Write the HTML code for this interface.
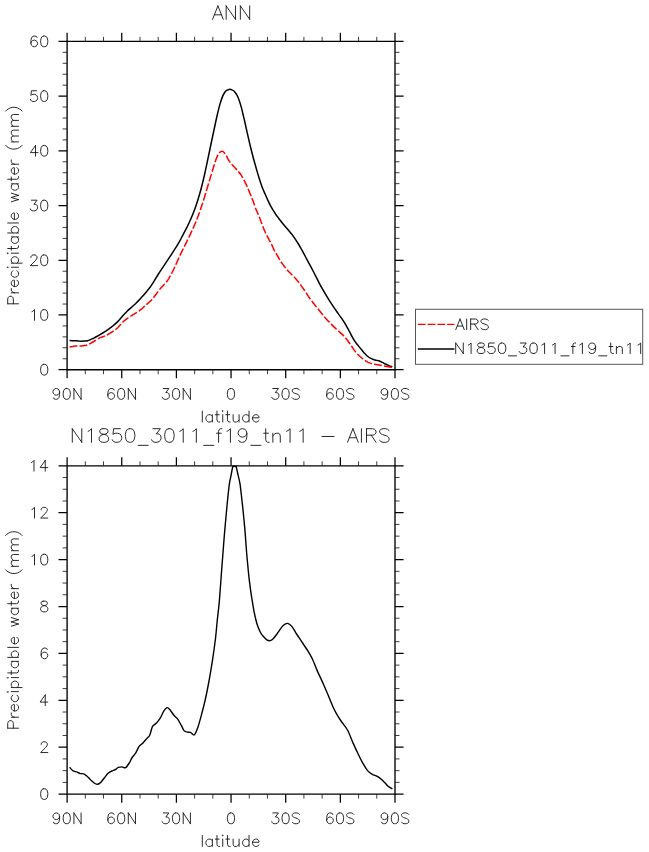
<!DOCTYPE html>
<html><head><meta charset="utf-8"><title>ANN</title>
<style>
html,body{margin:0;padding:0;background:#fff;font-family:"Liberation Sans",sans-serif;}
svg{display:block}
</style></head><body>
<svg width="649" height="852" viewBox="0 0 649 852" fill="none" stroke-linecap="butt">
<rect x="0" y="0" width="649" height="852" fill="#fff" stroke="none"/>
<path d="M67.10 41.40H395.00V369.70H67.10Z" stroke="#000" stroke-width="1.35"/>
<path d="M67.10 41.40V32.80M67.10 369.70V378.30M121.75 41.40V32.80M121.75 369.70V378.30M176.40 41.40V32.80M176.40 369.70V378.30M231.05 41.40V32.80M231.05 369.70V378.30M285.70 41.40V32.80M285.70 369.70V378.30M340.35 41.40V32.80M340.35 369.70V378.30M395.00 41.40V32.80M395.00 369.70V378.30M67.10 41.40H58.50M395.00 41.40H403.60M67.10 96.12H58.50M395.00 96.12H403.60M67.10 150.83H58.50M395.00 150.83H403.60M67.10 205.55H58.50M395.00 205.55H403.60M67.10 260.27H58.50M395.00 260.27H403.60M67.10 314.98H58.50M395.00 314.98H403.60M67.10 369.70H58.50M395.00 369.70H403.60" stroke="#000" stroke-width="1.25"/>
<path d="M85.32 41.40V36.90M85.32 369.70V374.20M103.53 41.40V36.90M103.53 369.70V374.20M139.97 41.40V36.90M139.97 369.70V374.20M158.18 41.40V36.90M158.18 369.70V374.20M194.62 41.40V36.90M194.62 369.70V374.20M212.83 41.40V36.90M212.83 369.70V374.20M249.27 41.40V36.90M249.27 369.70V374.20M267.48 41.40V36.90M267.48 369.70V374.20M303.92 41.40V36.90M303.92 369.70V374.20M322.13 41.40V36.90M322.13 369.70V374.20M358.57 41.40V36.90M358.57 369.70V374.20M376.78 41.40V36.90M376.78 369.70V374.20M67.10 52.34H62.60M395.00 52.34H399.50M67.10 63.29H62.60M395.00 63.29H399.50M67.10 74.23H62.60M395.00 74.23H399.50M67.10 85.17H62.60M395.00 85.17H399.50M67.10 107.06H62.60M395.00 107.06H399.50M67.10 118.00H62.60M395.00 118.00H399.50M67.10 128.95H62.60M395.00 128.95H399.50M67.10 139.89H62.60M395.00 139.89H399.50M67.10 161.78H62.60M395.00 161.78H399.50M67.10 172.72H62.60M395.00 172.72H399.50M67.10 183.66H62.60M395.00 183.66H399.50M67.10 194.61H62.60M395.00 194.61H399.50M67.10 216.49H62.60M395.00 216.49H399.50M67.10 227.44H62.60M395.00 227.44H399.50M67.10 238.38H62.60M395.00 238.38H399.50M67.10 249.32H62.60M395.00 249.32H399.50M67.10 271.21H62.60M395.00 271.21H399.50M67.10 282.15H62.60M395.00 282.15H399.50M67.10 293.10H62.60M395.00 293.10H399.50M67.10 304.04H62.60M395.00 304.04H399.50M67.10 325.93H62.60M395.00 325.93H399.50M67.10 336.87H62.60M395.00 336.87H399.50M67.10 347.81H62.60M395.00 347.81H399.50M67.10 358.76H62.60M395.00 358.76H399.50" stroke="#1a1a1a" stroke-width="0.85"/>
<path d="M37.05 37.57L36.54 36.55L35.00 36.04L33.98 36.04L32.44 36.55L31.42 38.08L30.90 40.63L30.90 43.18L31.42 45.22L32.44 46.24L33.98 46.75L34.49 46.75L36.02 46.24L37.05 45.22L37.56 43.69L37.56 43.18L37.05 41.65L36.02 40.63L34.49 40.12L33.98 40.12L32.44 40.63L31.42 41.65L30.90 43.18M43.70 36.04L42.17 36.55L41.14 38.08L40.63 40.63L40.63 42.16L41.14 44.71L42.17 46.24L43.70 46.75L44.73 46.75L46.26 46.24L47.29 44.71L47.80 42.16L47.80 40.63L47.29 38.08L46.26 36.55L44.73 36.04L43.70 36.04" stroke="#1a1a1a" stroke-width="0.93" stroke-linecap="round" stroke-linejoin="round"/>
<path d="M36.54 90.76L31.42 90.76L30.90 95.35L31.42 94.84L32.95 94.33L34.49 94.33L36.02 94.84L37.05 95.86L37.56 97.39L37.56 98.41L37.05 99.94L36.02 100.96L34.49 101.47L32.95 101.47L31.42 100.96L30.90 100.45L30.39 99.43M43.70 90.76L42.17 91.27L41.14 92.80L40.63 95.35L40.63 96.88L41.14 99.43L42.17 100.96L43.70 101.47L44.73 101.47L46.26 100.96L47.29 99.43L47.80 96.88L47.80 95.35L47.29 92.80L46.26 91.27L44.73 90.76L43.70 90.76" stroke="#1a1a1a" stroke-width="0.93" stroke-linecap="round" stroke-linejoin="round"/>
<path d="M35.51 145.47L30.39 152.61L38.07 152.61M35.51 145.47L35.51 156.18M43.70 145.47L42.17 145.98L41.14 147.51L40.63 150.06L40.63 151.59L41.14 154.14L42.17 155.67L43.70 156.18L44.73 156.18L46.26 155.67L47.29 154.14L47.80 151.59L47.80 150.06L47.29 147.51L46.26 145.98L44.73 145.47L43.70 145.47" stroke="#1a1a1a" stroke-width="0.93" stroke-linecap="round" stroke-linejoin="round"/>
<path d="M31.42 200.19L37.05 200.19L33.98 204.27L35.51 204.27L36.54 204.78L37.05 205.29L37.56 206.82L37.56 207.84L37.05 209.37L36.02 210.39L34.49 210.90L32.95 210.90L31.42 210.39L30.90 209.88L30.39 208.86M43.70 200.19L42.17 200.70L41.14 202.23L40.63 204.78L40.63 206.31L41.14 208.86L42.17 210.39L43.70 210.90L44.73 210.90L46.26 210.39L47.29 208.86L47.80 206.31L47.80 204.78L47.29 202.23L46.26 200.70L44.73 200.19L43.70 200.19" stroke="#1a1a1a" stroke-width="0.93" stroke-linecap="round" stroke-linejoin="round"/>
<path d="M30.90 257.46L30.90 256.95L31.42 255.93L31.93 255.42L32.95 254.91L35.00 254.91L36.02 255.42L36.54 255.93L37.05 256.95L37.05 257.97L36.54 258.99L35.51 260.52L30.39 265.62L37.56 265.62M43.70 254.91L42.17 255.42L41.14 256.95L40.63 259.50L40.63 261.03L41.14 263.58L42.17 265.11L43.70 265.62L44.73 265.62L46.26 265.11L47.29 263.58L47.80 261.03L47.80 259.50L47.29 256.95L46.26 255.42L44.73 254.91L43.70 254.91" stroke="#1a1a1a" stroke-width="0.93" stroke-linecap="round" stroke-linejoin="round"/>
<path d="M31.93 311.66L32.95 311.15L34.49 309.62L34.49 320.33M43.70 309.62L42.17 310.13L41.14 311.66L40.63 314.21L40.63 315.74L41.14 318.29L42.17 319.82L43.70 320.33L44.73 320.33L46.26 319.82L47.29 318.29L47.80 315.74L47.80 314.21L47.29 311.66L46.26 310.13L44.73 309.62L43.70 309.62" stroke="#1a1a1a" stroke-width="0.93" stroke-linecap="round" stroke-linejoin="round"/>
<path d="M43.70 364.34L42.17 364.85L41.14 366.38L40.63 368.93L40.63 370.46L41.14 373.01L42.17 374.54L43.70 375.05L44.73 375.05L46.26 374.54L47.29 373.01L47.80 370.46L47.80 368.93L47.29 366.38L46.26 364.85L44.73 364.34L43.70 364.34" stroke="#1a1a1a" stroke-width="0.93" stroke-linecap="round" stroke-linejoin="round"/>
<path d="M59.58 392.10L59.06 393.65L58.04 394.67L56.50 395.19L55.99 395.19L54.46 394.67L53.43 393.65L52.92 392.10L52.92 391.59L53.43 390.05L54.46 389.02L55.99 388.51L56.50 388.51L58.04 389.02L59.06 390.05L59.58 392.10L59.58 394.67L59.06 397.24L58.04 398.79L56.50 399.30L55.48 399.30L53.94 398.79L53.43 397.76M66.23 388.51L64.70 389.02L63.67 390.56L63.16 393.13L63.16 394.67L63.67 397.24L64.70 398.79L66.23 399.30L67.26 399.30L68.79 398.79L69.82 397.24L70.33 394.67L70.33 393.13L69.82 390.56L68.79 389.02L67.26 388.51L66.23 388.51M73.91 388.51L73.91 399.30M73.91 388.51L81.08 399.30M81.08 388.51L81.08 399.30" stroke="#1a1a1a" stroke-width="0.93" stroke-linecap="round" stroke-linejoin="round"/>
<path d="M113.97 390.05L113.46 389.02L111.92 388.51L110.90 388.51L109.36 389.02L108.34 390.56L107.83 393.13L107.83 395.70L108.34 397.76L109.36 398.79L110.90 399.30L111.41 399.30L112.95 398.79L113.97 397.76L114.48 396.22L114.48 395.70L113.97 394.16L112.95 393.13L111.41 392.62L110.90 392.62L109.36 393.13L108.34 394.16L107.83 395.70M120.63 388.51L119.09 389.02L118.07 390.56L117.55 393.13L117.55 394.67L118.07 397.24L119.09 398.79L120.63 399.30L121.65 399.30L123.19 398.79L124.21 397.24L124.72 394.67L124.72 393.13L124.21 390.56L123.19 389.02L121.65 388.51L120.63 388.51M128.31 388.51L128.31 399.30M128.31 388.51L135.47 399.30M135.47 388.51L135.47 399.30" stroke="#1a1a1a" stroke-width="0.93" stroke-linecap="round" stroke-linejoin="round"/>
<path d="M163.24 388.51L168.88 388.51L165.80 392.62L167.34 392.62L168.36 393.13L168.88 393.65L169.39 395.19L169.39 396.22L168.88 397.76L167.85 398.79L166.32 399.30L164.78 399.30L163.24 398.79L162.73 398.27L162.22 397.24M175.53 388.51L174.00 389.02L172.97 390.56L172.46 393.13L172.46 394.67L172.97 397.24L174.00 398.79L175.53 399.30L176.56 399.30L178.09 398.79L179.12 397.24L179.63 394.67L179.63 393.13L179.12 390.56L178.09 389.02L176.56 388.51L175.53 388.51M183.21 388.51L183.21 399.30M183.21 388.51L190.38 399.30M190.38 388.51L190.38 399.30" stroke="#1a1a1a" stroke-width="0.93" stroke-linecap="round" stroke-linejoin="round"/>
<path d="M230.44 388.51L228.90 389.02L227.88 390.56L227.37 393.13L227.37 394.67L227.88 397.24L228.90 398.79L230.44 399.30L231.46 399.30L233.00 398.79L234.02 397.24L234.53 394.67L234.53 393.13L234.02 390.56L233.00 389.02L231.46 388.51L230.44 388.51" stroke="#1a1a1a" stroke-width="0.93" stroke-linecap="round" stroke-linejoin="round"/>
<path d="M272.80 388.51L278.43 388.51L275.36 392.62L276.90 392.62L277.92 393.13L278.43 393.65L278.94 395.19L278.94 396.22L278.43 397.76L277.41 398.79L275.87 399.30L274.34 399.30L272.80 398.79L272.29 398.27L271.78 397.24M285.09 388.51L283.55 389.02L282.53 390.56L282.02 393.13L282.02 394.67L282.53 397.24L283.55 398.79L285.09 399.30L286.11 399.30L287.65 398.79L288.67 397.24L289.18 394.67L289.18 393.13L288.67 390.56L287.65 389.02L286.11 388.51L285.09 388.51M299.42 390.05L298.40 389.02L296.86 388.51L294.82 388.51L293.28 389.02L292.26 390.05L292.26 391.08L292.77 392.10L293.28 392.62L294.30 393.13L297.38 394.16L298.40 394.67L298.91 395.19L299.42 396.22L299.42 397.76L298.40 398.79L296.86 399.30L294.82 399.30L293.28 398.79L292.26 397.76" stroke="#1a1a1a" stroke-width="0.93" stroke-linecap="round" stroke-linejoin="round"/>
<path d="M332.83 390.05L332.31 389.02L330.78 388.51L329.75 388.51L328.22 389.02L327.19 390.56L326.68 393.13L326.68 395.70L327.19 397.76L328.22 398.79L329.75 399.30L330.27 399.30L331.80 398.79L332.83 397.76L333.34 396.22L333.34 395.70L332.83 394.16L331.80 393.13L330.27 392.62L329.75 392.62L328.22 393.13L327.19 394.16L326.68 395.70M339.48 388.51L337.95 389.02L336.92 390.56L336.41 393.13L336.41 394.67L336.92 397.24L337.95 398.79L339.48 399.30L340.51 399.30L342.04 398.79L343.07 397.24L343.58 394.67L343.58 393.13L343.07 390.56L342.04 389.02L340.51 388.51L339.48 388.51M353.82 390.05L352.79 389.02L351.26 388.51L349.21 388.51L347.67 389.02L346.65 390.05L346.65 391.08L347.16 392.10L347.67 392.62L348.70 393.13L351.77 394.16L352.79 394.67L353.31 395.19L353.82 396.22L353.82 397.76L352.79 398.79L351.26 399.30L349.21 399.30L347.67 398.79L346.65 397.76" stroke="#1a1a1a" stroke-width="0.93" stroke-linecap="round" stroke-linejoin="round"/>
<path d="M387.73 392.10L387.22 393.65L386.20 394.67L384.66 395.19L384.15 395.19L382.61 394.67L381.59 393.65L381.08 392.10L381.08 391.59L381.59 390.05L382.61 389.02L384.15 388.51L384.66 388.51L386.20 389.02L387.22 390.05L387.73 392.10L387.73 394.67L387.22 397.24L386.20 398.79L384.66 399.30L383.64 399.30L382.10 398.79L381.59 397.76M394.39 388.51L392.85 389.02L391.83 390.56L391.32 393.13L391.32 394.67L391.83 397.24L392.85 398.79L394.39 399.30L395.41 399.30L396.95 398.79L397.97 397.24L398.48 394.67L398.48 393.13L397.97 390.56L396.95 389.02L395.41 388.51L394.39 388.51M408.72 390.05L407.70 389.02L406.16 388.51L404.12 388.51L402.58 389.02L401.56 390.05L401.56 391.08L402.07 392.10L402.58 392.62L403.60 393.13L406.68 394.16L407.70 394.67L408.21 395.19L408.72 396.22L408.72 397.76L407.70 398.79L406.16 399.30L404.12 399.30L402.58 398.79L401.56 397.76" stroke="#1a1a1a" stroke-width="0.93" stroke-linecap="round" stroke-linejoin="round"/>
<path d="M202.30 411.08L202.30 422.00M212.35 414.72L212.35 422.00M212.35 416.28L211.27 415.24L210.19 414.72L208.57 414.72L207.49 415.24L206.41 416.28L205.87 417.84L205.87 418.88L206.41 420.44L207.49 421.48L208.57 422.00L210.19 422.00L211.27 421.48L212.35 420.44M216.96 411.08L216.96 419.92L217.50 421.48L218.58 422.00L219.65 422.00M215.34 414.72L219.12 414.72M222.20 411.08L222.74 411.60L223.28 411.08L222.74 410.56L222.20 411.08M222.74 414.72L222.74 422.00M227.44 411.08L227.44 419.92L227.98 421.48L229.06 422.00L230.13 422.00M225.82 414.72L229.60 414.72M233.13 414.72L233.13 419.92L233.67 421.48L234.75 422.00L236.37 422.00L237.45 421.48L239.07 419.92M239.07 414.72L239.07 422.00M249.03 411.08L249.03 422.00M249.03 416.28L247.95 415.24L246.87 414.72L245.25 414.72L244.17 415.24L243.09 416.28L242.55 417.84L242.55 418.88L243.09 420.44L244.17 421.48L245.25 422.00L246.87 422.00L247.95 421.48L249.03 420.44M252.51 417.84L258.99 417.84L258.99 416.80L258.45 415.76L257.91 415.24L256.83 414.72L255.21 414.72L254.13 415.24L253.05 416.28L252.51 417.84L252.51 418.88L253.05 420.44L254.13 421.48L255.21 422.00L256.83 422.00L257.91 421.48L258.99 420.44" stroke="#1a1a1a" stroke-width="0.93" stroke-linecap="round" stroke-linejoin="round"/>
<path d="M7.71 303.80L18.50 303.80M7.71 303.80L7.71 298.97L8.22 297.36L8.73 296.83L9.76 296.29L11.30 296.29L12.33 296.83L12.85 297.36L13.36 298.97L13.36 303.80M11.30 292.82L18.50 292.82M14.39 292.82L12.85 292.28L11.82 291.21L11.30 290.14L11.30 288.53M14.39 286.60L14.39 280.17L13.36 280.17L12.33 280.70L11.82 281.24L11.30 282.31L11.30 283.92L11.82 284.99L12.85 286.06L14.39 286.60L15.42 286.60L16.96 286.06L17.99 284.99L18.50 283.92L18.50 282.31L17.99 281.24L16.96 280.17M12.85 270.79L11.82 271.87L11.30 272.94L11.30 274.55L11.82 275.62L12.85 276.69L14.39 277.23L15.42 277.23L16.96 276.69L17.99 275.62L18.50 274.55L18.50 272.94L17.99 271.87L16.96 270.79M7.71 267.78L8.22 267.24L7.71 266.71L7.19 267.24L7.71 267.78M11.30 267.24L18.50 267.24M11.30 263.17L22.10 263.17M12.85 263.17L11.82 262.10L11.30 261.02L11.30 259.42L11.82 258.34L12.85 257.27L14.39 256.73L15.42 256.73L16.96 257.27L17.99 258.34L18.50 259.42L18.50 261.02L17.99 262.10L16.96 263.17M7.71 253.72L8.22 253.18L7.71 252.65L7.19 253.18L7.71 253.72M11.30 253.18L18.50 253.18M7.71 248.51L16.44 248.51L17.99 247.98L18.50 246.90L18.50 245.83M11.30 250.12L11.30 246.37M11.30 236.95L18.50 236.95M12.85 236.95L11.82 238.02L11.30 239.09L11.30 240.70L11.82 241.77L12.85 242.85L14.39 243.38L15.42 243.38L16.96 242.85L17.99 241.77L18.50 240.70L18.50 239.09L17.99 238.02L16.96 236.95M7.71 232.97L18.50 232.97M12.85 232.97L11.82 231.90L11.30 230.82L11.30 229.21L11.82 228.14L12.85 227.07L14.39 226.53L15.42 226.53L16.96 227.07L17.99 228.14L18.50 229.21L18.50 230.82L17.99 231.90L16.96 232.97M7.71 222.98L18.50 222.98M14.39 219.43L14.39 213.00L13.36 213.00L12.33 213.53L11.82 214.07L11.30 215.14L11.30 216.75L11.82 217.82L12.85 218.89L14.39 219.43L15.42 219.43L16.96 218.89L17.99 217.82L18.50 216.75L18.50 215.14L17.99 214.07L16.96 213.00M11.30 201.76L18.50 199.61M11.30 197.47L18.50 199.61M11.30 197.47L18.50 195.32M11.30 193.18L18.50 195.32M11.30 183.84L18.50 183.84M12.85 183.84L11.82 184.91L11.30 185.98L11.30 187.59L11.82 188.66L12.85 189.74L14.39 190.27L15.42 190.27L16.96 189.74L17.99 188.66L18.50 187.59L18.50 185.98L17.99 184.91L16.96 183.84M7.71 179.26L16.44 179.26L17.99 178.72L18.50 177.65L18.50 176.58M11.30 180.87L11.30 177.11M14.39 174.13L14.39 167.69L13.36 167.69L12.33 168.23L11.82 168.77L11.30 169.84L11.30 171.45L11.82 172.52L12.85 173.59L14.39 174.13L15.42 174.13L16.96 173.59L17.99 172.52L18.50 171.45L18.50 169.84L17.99 168.77L16.96 167.69M11.30 164.21L18.50 164.21M14.39 164.21L12.85 163.67L11.82 162.60L11.30 161.52L11.30 159.91M5.65 145.34L6.68 146.42L8.22 147.49L10.28 148.56L12.85 149.10L14.90 149.10L17.47 148.56L19.53 147.49L21.07 146.42L22.10 145.34M11.30 141.92L18.50 141.92M13.36 141.92L11.82 140.32L11.30 139.24L11.30 137.63L11.82 136.56L13.36 136.03L18.50 136.03M13.36 136.03L11.82 134.42L11.30 133.34L11.30 131.73L11.82 130.66L13.36 130.13L18.50 130.13M11.30 126.30L18.50 126.30M13.36 126.30L11.82 124.69L11.30 123.62L11.30 122.01L11.82 120.94L13.36 120.40L18.50 120.40M13.36 120.40L11.82 118.80L11.30 117.72L11.30 116.11L11.82 115.04L13.36 114.50L18.50 114.50M5.65 111.09L6.68 110.01L8.22 108.94L10.28 107.87L12.85 107.33L14.90 107.33L17.47 107.87L19.53 108.94L21.07 110.01L22.10 111.09" stroke="#1a1a1a" stroke-width="0.93" stroke-linecap="round" stroke-linejoin="round"/>
<path d="M217.91 5.86L212.60 19.30M217.91 5.86L223.23 19.30M214.59 14.82L221.24 14.82M226.16 5.86L226.16 19.30M226.16 5.86L235.47 19.30M235.47 5.86L235.47 19.30M240.35 5.86L240.35 19.30M240.35 5.86L249.66 19.30M249.66 5.86L249.66 19.30" stroke="#1a1a1a" stroke-width="0.93" stroke-linecap="round" stroke-linejoin="round"/>
<path d="M67.10 465.80H395.00V794.10H67.10Z" stroke="#000" stroke-width="1.35"/>
<path d="M67.10 465.80V457.20M67.10 794.10V802.70M121.75 465.80V457.20M121.75 794.10V802.70M176.40 465.80V457.20M176.40 794.10V802.70M231.05 465.80V457.20M231.05 794.10V802.70M285.70 465.80V457.20M285.70 794.10V802.70M340.35 465.80V457.20M340.35 794.10V802.70M395.00 465.80V457.20M395.00 794.10V802.70M67.10 465.80H58.50M395.00 465.80H403.60M67.10 512.70H58.50M395.00 512.70H403.60M67.10 559.60H58.50M395.00 559.60H403.60M67.10 606.50H58.50M395.00 606.50H403.60M67.10 653.40H58.50M395.00 653.40H403.60M67.10 700.30H58.50M395.00 700.30H403.60M67.10 747.20H58.50M395.00 747.20H403.60M67.10 794.10H58.50M395.00 794.10H403.60" stroke="#000" stroke-width="1.25"/>
<path d="M85.32 465.80V461.30M85.32 794.10V798.60M103.53 465.80V461.30M103.53 794.10V798.60M139.97 465.80V461.30M139.97 794.10V798.60M158.18 465.80V461.30M158.18 794.10V798.60M194.62 465.80V461.30M194.62 794.10V798.60M212.83 465.80V461.30M212.83 794.10V798.60M249.27 465.80V461.30M249.27 794.10V798.60M267.48 465.80V461.30M267.48 794.10V798.60M303.92 465.80V461.30M303.92 794.10V798.60M322.13 465.80V461.30M322.13 794.10V798.60M358.57 465.80V461.30M358.57 794.10V798.60M376.78 465.80V461.30M376.78 794.10V798.60M67.10 477.53H62.60M395.00 477.53H399.50M67.10 489.25H62.60M395.00 489.25H399.50M67.10 500.98H62.60M395.00 500.98H399.50M67.10 524.42H62.60M395.00 524.42H399.50M67.10 536.15H62.60M395.00 536.15H399.50M67.10 547.88H62.60M395.00 547.88H399.50M67.10 571.33H62.60M395.00 571.33H399.50M67.10 583.05H62.60M395.00 583.05H399.50M67.10 594.77H62.60M395.00 594.77H399.50M67.10 618.23H62.60M395.00 618.23H399.50M67.10 629.95H62.60M395.00 629.95H399.50M67.10 641.67H62.60M395.00 641.67H399.50M67.10 665.12H62.60M395.00 665.12H399.50M67.10 676.85H62.60M395.00 676.85H399.50M67.10 688.58H62.60M395.00 688.58H399.50M67.10 712.02H62.60M395.00 712.02H399.50M67.10 723.75H62.60M395.00 723.75H399.50M67.10 735.48H62.60M395.00 735.48H399.50M67.10 758.92H62.60M395.00 758.92H399.50M67.10 770.65H62.60M395.00 770.65H399.50M67.10 782.38H62.60M395.00 782.38H399.50" stroke="#1a1a1a" stroke-width="0.85"/>
<path d="M31.42 462.48L32.44 461.97L33.98 460.44L33.98 471.15M45.24 460.44L40.12 467.58L47.80 467.58M45.24 460.44L45.24 471.15" stroke="#1a1a1a" stroke-width="0.93" stroke-linecap="round" stroke-linejoin="round"/>
<path d="M31.93 509.38L32.95 508.87L34.49 507.34L34.49 518.05M41.14 509.89L41.14 509.38L41.66 508.36L42.17 507.85L43.19 507.34L45.24 507.34L46.26 507.85L46.78 508.36L47.29 509.38L47.29 510.40L46.78 511.42L45.75 512.95L40.63 518.05L47.80 518.05" stroke="#1a1a1a" stroke-width="0.93" stroke-linecap="round" stroke-linejoin="round"/>
<path d="M31.93 556.28L32.95 555.77L34.49 554.24L34.49 564.95M43.70 554.24L42.17 554.75L41.14 556.28L40.63 558.83L40.63 560.36L41.14 562.91L42.17 564.44L43.70 564.95L44.73 564.95L46.26 564.44L47.29 562.91L47.80 560.36L47.80 558.83L47.29 556.28L46.26 554.75L44.73 554.24L43.70 554.24" stroke="#1a1a1a" stroke-width="0.93" stroke-linecap="round" stroke-linejoin="round"/>
<path d="M43.19 601.14L41.66 601.65L41.14 602.67L41.14 603.69L41.66 604.71L42.68 605.22L44.73 605.73L46.26 606.24L47.29 607.26L47.80 608.28L47.80 609.81L47.29 610.83L46.78 611.34L45.24 611.85L43.19 611.85L41.66 611.34L41.14 610.83L40.63 609.81L40.63 608.28L41.14 607.26L42.17 606.24L43.70 605.73L45.75 605.22L46.78 604.71L47.29 603.69L47.29 602.67L46.78 601.65L45.24 601.14L43.19 601.14" stroke="#1a1a1a" stroke-width="0.93" stroke-linecap="round" stroke-linejoin="round"/>
<path d="M47.29 649.57L46.78 648.55L45.24 648.04L44.22 648.04L42.68 648.55L41.66 650.08L41.14 652.63L41.14 655.18L41.66 657.22L42.68 658.24L44.22 658.75L44.73 658.75L46.26 658.24L47.29 657.22L47.80 655.69L47.80 655.18L47.29 653.65L46.26 652.63L44.73 652.12L44.22 652.12L42.68 652.63L41.66 653.65L41.14 655.18" stroke="#1a1a1a" stroke-width="0.93" stroke-linecap="round" stroke-linejoin="round"/>
<path d="M45.24 694.94L40.12 702.08L47.80 702.08M45.24 694.94L45.24 705.65" stroke="#1a1a1a" stroke-width="0.93" stroke-linecap="round" stroke-linejoin="round"/>
<path d="M41.14 744.39L41.14 743.88L41.66 742.86L42.17 742.35L43.19 741.84L45.24 741.84L46.26 742.35L46.78 742.86L47.29 743.88L47.29 744.90L46.78 745.92L45.75 747.45L40.63 752.55L47.80 752.55" stroke="#1a1a1a" stroke-width="0.93" stroke-linecap="round" stroke-linejoin="round"/>
<path d="M43.70 788.74L42.17 789.25L41.14 790.78L40.63 793.33L40.63 794.86L41.14 797.41L42.17 798.94L43.70 799.45L44.73 799.45L46.26 798.94L47.29 797.41L47.80 794.86L47.80 793.33L47.29 790.78L46.26 789.25L44.73 788.74L43.70 788.74" stroke="#1a1a1a" stroke-width="0.93" stroke-linecap="round" stroke-linejoin="round"/>
<path d="M59.58 816.50L59.06 818.05L58.04 819.07L56.50 819.59L55.99 819.59L54.46 819.07L53.43 818.05L52.92 816.50L52.92 815.99L53.43 814.45L54.46 813.42L55.99 812.91L56.50 812.91L58.04 813.42L59.06 814.45L59.58 816.50L59.58 819.07L59.06 821.64L58.04 823.19L56.50 823.70L55.48 823.70L53.94 823.19L53.43 822.16M66.23 812.91L64.70 813.42L63.67 814.96L63.16 817.53L63.16 819.07L63.67 821.64L64.70 823.19L66.23 823.70L67.26 823.70L68.79 823.19L69.82 821.64L70.33 819.07L70.33 817.53L69.82 814.96L68.79 813.42L67.26 812.91L66.23 812.91M73.91 812.91L73.91 823.70M73.91 812.91L81.08 823.70M81.08 812.91L81.08 823.70" stroke="#1a1a1a" stroke-width="0.93" stroke-linecap="round" stroke-linejoin="round"/>
<path d="M113.97 814.45L113.46 813.42L111.92 812.91L110.90 812.91L109.36 813.42L108.34 814.96L107.83 817.53L107.83 820.10L108.34 822.16L109.36 823.19L110.90 823.70L111.41 823.70L112.95 823.19L113.97 822.16L114.48 820.62L114.48 820.10L113.97 818.56L112.95 817.53L111.41 817.02L110.90 817.02L109.36 817.53L108.34 818.56L107.83 820.10M120.63 812.91L119.09 813.42L118.07 814.96L117.55 817.53L117.55 819.07L118.07 821.64L119.09 823.19L120.63 823.70L121.65 823.70L123.19 823.19L124.21 821.64L124.72 819.07L124.72 817.53L124.21 814.96L123.19 813.42L121.65 812.91L120.63 812.91M128.31 812.91L128.31 823.70M128.31 812.91L135.47 823.70M135.47 812.91L135.47 823.70" stroke="#1a1a1a" stroke-width="0.93" stroke-linecap="round" stroke-linejoin="round"/>
<path d="M163.24 812.91L168.88 812.91L165.80 817.02L167.34 817.02L168.36 817.53L168.88 818.05L169.39 819.59L169.39 820.62L168.88 822.16L167.85 823.19L166.32 823.70L164.78 823.70L163.24 823.19L162.73 822.67L162.22 821.64M175.53 812.91L174.00 813.42L172.97 814.96L172.46 817.53L172.46 819.07L172.97 821.64L174.00 823.19L175.53 823.70L176.56 823.70L178.09 823.19L179.12 821.64L179.63 819.07L179.63 817.53L179.12 814.96L178.09 813.42L176.56 812.91L175.53 812.91M183.21 812.91L183.21 823.70M183.21 812.91L190.38 823.70M190.38 812.91L190.38 823.70" stroke="#1a1a1a" stroke-width="0.93" stroke-linecap="round" stroke-linejoin="round"/>
<path d="M230.44 812.91L228.90 813.42L227.88 814.96L227.37 817.53L227.37 819.07L227.88 821.64L228.90 823.19L230.44 823.70L231.46 823.70L233.00 823.19L234.02 821.64L234.53 819.07L234.53 817.53L234.02 814.96L233.00 813.42L231.46 812.91L230.44 812.91" stroke="#1a1a1a" stroke-width="0.93" stroke-linecap="round" stroke-linejoin="round"/>
<path d="M272.80 812.91L278.43 812.91L275.36 817.02L276.90 817.02L277.92 817.53L278.43 818.05L278.94 819.59L278.94 820.62L278.43 822.16L277.41 823.19L275.87 823.70L274.34 823.70L272.80 823.19L272.29 822.67L271.78 821.64M285.09 812.91L283.55 813.42L282.53 814.96L282.02 817.53L282.02 819.07L282.53 821.64L283.55 823.19L285.09 823.70L286.11 823.70L287.65 823.19L288.67 821.64L289.18 819.07L289.18 817.53L288.67 814.96L287.65 813.42L286.11 812.91L285.09 812.91M299.42 814.45L298.40 813.42L296.86 812.91L294.82 812.91L293.28 813.42L292.26 814.45L292.26 815.48L292.77 816.50L293.28 817.02L294.30 817.53L297.38 818.56L298.40 819.07L298.91 819.59L299.42 820.62L299.42 822.16L298.40 823.19L296.86 823.70L294.82 823.70L293.28 823.19L292.26 822.16" stroke="#1a1a1a" stroke-width="0.93" stroke-linecap="round" stroke-linejoin="round"/>
<path d="M332.83 814.45L332.31 813.42L330.78 812.91L329.75 812.91L328.22 813.42L327.19 814.96L326.68 817.53L326.68 820.10L327.19 822.16L328.22 823.19L329.75 823.70L330.27 823.70L331.80 823.19L332.83 822.16L333.34 820.62L333.34 820.10L332.83 818.56L331.80 817.53L330.27 817.02L329.75 817.02L328.22 817.53L327.19 818.56L326.68 820.10M339.48 812.91L337.95 813.42L336.92 814.96L336.41 817.53L336.41 819.07L336.92 821.64L337.95 823.19L339.48 823.70L340.51 823.70L342.04 823.19L343.07 821.64L343.58 819.07L343.58 817.53L343.07 814.96L342.04 813.42L340.51 812.91L339.48 812.91M353.82 814.45L352.79 813.42L351.26 812.91L349.21 812.91L347.67 813.42L346.65 814.45L346.65 815.48L347.16 816.50L347.67 817.02L348.70 817.53L351.77 818.56L352.79 819.07L353.31 819.59L353.82 820.62L353.82 822.16L352.79 823.19L351.26 823.70L349.21 823.70L347.67 823.19L346.65 822.16" stroke="#1a1a1a" stroke-width="0.93" stroke-linecap="round" stroke-linejoin="round"/>
<path d="M387.73 816.50L387.22 818.05L386.20 819.07L384.66 819.59L384.15 819.59L382.61 819.07L381.59 818.05L381.08 816.50L381.08 815.99L381.59 814.45L382.61 813.42L384.15 812.91L384.66 812.91L386.20 813.42L387.22 814.45L387.73 816.50L387.73 819.07L387.22 821.64L386.20 823.19L384.66 823.70L383.64 823.70L382.10 823.19L381.59 822.16M394.39 812.91L392.85 813.42L391.83 814.96L391.32 817.53L391.32 819.07L391.83 821.64L392.85 823.19L394.39 823.70L395.41 823.70L396.95 823.19L397.97 821.64L398.48 819.07L398.48 817.53L397.97 814.96L396.95 813.42L395.41 812.91L394.39 812.91M408.72 814.45L407.70 813.42L406.16 812.91L404.12 812.91L402.58 813.42L401.56 814.45L401.56 815.48L402.07 816.50L402.58 817.02L403.60 817.53L406.68 818.56L407.70 819.07L408.21 819.59L408.72 820.62L408.72 822.16L407.70 823.19L406.16 823.70L404.12 823.70L402.58 823.19L401.56 822.16" stroke="#1a1a1a" stroke-width="0.93" stroke-linecap="round" stroke-linejoin="round"/>
<path d="M202.30 835.48L202.30 846.40M212.35 839.12L212.35 846.40M212.35 840.68L211.27 839.64L210.19 839.12L208.57 839.12L207.49 839.64L206.41 840.68L205.87 842.24L205.87 843.28L206.41 844.84L207.49 845.88L208.57 846.40L210.19 846.40L211.27 845.88L212.35 844.84M216.96 835.48L216.96 844.32L217.50 845.88L218.58 846.40L219.65 846.40M215.34 839.12L219.12 839.12M222.20 835.48L222.74 836.00L223.28 835.48L222.74 834.96L222.20 835.48M222.74 839.12L222.74 846.40M227.44 835.48L227.44 844.32L227.98 845.88L229.06 846.40L230.13 846.40M225.82 839.12L229.60 839.12M233.13 839.12L233.13 844.32L233.67 845.88L234.75 846.40L236.37 846.40L237.45 845.88L239.07 844.32M239.07 839.12L239.07 846.40M249.03 835.48L249.03 846.40M249.03 840.68L247.95 839.64L246.87 839.12L245.25 839.12L244.17 839.64L243.09 840.68L242.55 842.24L242.55 843.28L243.09 844.84L244.17 845.88L245.25 846.40L246.87 846.40L247.95 845.88L249.03 844.84M252.51 842.24L258.99 842.24L258.99 841.20L258.45 840.16L257.91 839.64L256.83 839.12L255.21 839.12L254.13 839.64L253.05 840.68L252.51 842.24L252.51 843.28L253.05 844.84L254.13 845.88L255.21 846.40L256.83 846.40L257.91 845.88L258.99 844.84" stroke="#1a1a1a" stroke-width="0.93" stroke-linecap="round" stroke-linejoin="round"/>
<path d="M7.71 728.20L18.50 728.20M7.71 728.20L7.71 723.37L8.22 721.76L8.73 721.23L9.76 720.69L11.30 720.69L12.33 721.23L12.85 721.76L13.36 723.37L13.36 728.20M11.30 717.22L18.50 717.22M14.39 717.22L12.85 716.68L11.82 715.61L11.30 714.54L11.30 712.93M14.39 711.00L14.39 704.57L13.36 704.57L12.33 705.10L11.82 705.64L11.30 706.71L11.30 708.32L11.82 709.39L12.85 710.46L14.39 711.00L15.42 711.00L16.96 710.46L17.99 709.39L18.50 708.32L18.50 706.71L17.99 705.64L16.96 704.57M12.85 695.19L11.82 696.27L11.30 697.34L11.30 698.95L11.82 700.02L12.85 701.09L14.39 701.63L15.42 701.63L16.96 701.09L17.99 700.02L18.50 698.95L18.50 697.34L17.99 696.27L16.96 695.19M7.71 692.18L8.22 691.64L7.71 691.11L7.19 691.64L7.71 692.18M11.30 691.64L18.50 691.64M11.30 687.57L22.10 687.57M12.85 687.57L11.82 686.50L11.30 685.42L11.30 683.82L11.82 682.74L12.85 681.67L14.39 681.13L15.42 681.13L16.96 681.67L17.99 682.74L18.50 683.82L18.50 685.42L17.99 686.50L16.96 687.57M7.71 678.12L8.22 677.58L7.71 677.05L7.19 677.58L7.71 678.12M11.30 677.58L18.50 677.58M7.71 672.91L16.44 672.91L17.99 672.38L18.50 671.30L18.50 670.23M11.30 674.52L11.30 670.77M11.30 661.35L18.50 661.35M12.85 661.35L11.82 662.42L11.30 663.49L11.30 665.10L11.82 666.17L12.85 667.25L14.39 667.78L15.42 667.78L16.96 667.25L17.99 666.17L18.50 665.10L18.50 663.49L17.99 662.42L16.96 661.35M7.71 657.37L18.50 657.37M12.85 657.37L11.82 656.30L11.30 655.22L11.30 653.61L11.82 652.54L12.85 651.47L14.39 650.93L15.42 650.93L16.96 651.47L17.99 652.54L18.50 653.61L18.50 655.22L17.99 656.30L16.96 657.37M7.71 647.38L18.50 647.38M14.39 643.83L14.39 637.40L13.36 637.40L12.33 637.93L11.82 638.47L11.30 639.54L11.30 641.15L11.82 642.22L12.85 643.29L14.39 643.83L15.42 643.83L16.96 643.29L17.99 642.22L18.50 641.15L18.50 639.54L17.99 638.47L16.96 637.40M11.30 626.16L18.50 624.01M11.30 621.87L18.50 624.01M11.30 621.87L18.50 619.72M11.30 617.58L18.50 619.72M11.30 608.24L18.50 608.24M12.85 608.24L11.82 609.31L11.30 610.38L11.30 611.99L11.82 613.06L12.85 614.14L14.39 614.67L15.42 614.67L16.96 614.14L17.99 613.06L18.50 611.99L18.50 610.38L17.99 609.31L16.96 608.24M7.71 603.66L16.44 603.66L17.99 603.12L18.50 602.05L18.50 600.98M11.30 605.27L11.30 601.51M14.39 598.53L14.39 592.09L13.36 592.09L12.33 592.63L11.82 593.17L11.30 594.24L11.30 595.85L11.82 596.92L12.85 597.99L14.39 598.53L15.42 598.53L16.96 597.99L17.99 596.92L18.50 595.85L18.50 594.24L17.99 593.17L16.96 592.09M11.30 588.61L18.50 588.61M14.39 588.61L12.85 588.07L11.82 587.00L11.30 585.92L11.30 584.31M5.65 569.74L6.68 570.82L8.22 571.89L10.28 572.96L12.85 573.50L14.90 573.50L17.47 572.96L19.53 571.89L21.07 570.82L22.10 569.74M11.30 566.32L18.50 566.32M13.36 566.32L11.82 564.72L11.30 563.64L11.30 562.03L11.82 560.96L13.36 560.43L18.50 560.43M13.36 560.43L11.82 558.82L11.30 557.74L11.30 556.13L11.82 555.06L13.36 554.53L18.50 554.53M11.30 550.70L18.50 550.70M13.36 550.70L11.82 549.09L11.30 548.02L11.30 546.41L11.82 545.34L13.36 544.80L18.50 544.80M13.36 544.80L11.82 543.20L11.30 542.12L11.30 540.51L11.82 539.44L13.36 538.90L18.50 538.90M5.65 535.49L6.68 534.41L8.22 533.34L10.28 532.27L12.85 531.73L14.90 531.73L17.47 532.27L19.53 533.34L21.07 534.41L22.10 535.49" stroke="#1a1a1a" stroke-width="0.93" stroke-linecap="round" stroke-linejoin="round"/>
<path d="M72.30 428.69L72.30 442.30M72.30 428.69L81.75 442.30M81.75 428.69L81.75 442.30M88.12 431.28L89.47 430.64L91.49 428.69L91.49 442.30M102.54 428.69L100.52 429.34L99.84 430.64L99.84 431.93L100.52 433.23L101.87 433.88L104.57 434.52L106.59 435.17L107.94 436.47L108.62 437.76L108.62 439.71L107.94 441.00L107.27 441.65L105.24 442.30L102.54 442.30L100.52 441.65L99.84 441.00L99.17 439.71L99.17 437.76L99.84 436.47L101.19 435.17L103.22 434.52L105.92 433.88L107.27 433.23L107.94 431.93L107.94 430.64L107.27 429.34L105.24 428.69L102.54 428.69M120.37 428.69L113.62 428.69L112.95 434.52L113.62 433.88L115.65 433.23L117.67 433.23L119.70 433.88L121.05 435.17L121.72 437.12L121.72 438.41L121.05 440.36L119.70 441.65L117.67 442.30L115.65 442.30L113.62 441.65L112.95 441.00L112.27 439.71M129.43 428.69L127.40 429.34L126.05 431.28L125.38 434.52L125.38 436.47L126.05 439.71L127.40 441.65L129.43 442.30L130.78 442.30L132.80 441.65L134.15 439.71L134.83 436.47L134.83 434.52L134.15 431.28L132.80 429.34L130.78 428.69L129.43 428.69M138.15 445.35L148.27 445.35M152.94 428.69L160.37 428.69L156.32 433.88L158.34 433.88L159.69 434.52L160.37 435.17L161.04 437.12L161.04 438.41L160.37 440.36L159.02 441.65L156.99 442.30L154.97 442.30L152.94 441.65L152.27 441.00L151.59 439.71M168.75 428.69L166.72 429.34L165.37 431.28L164.70 434.52L164.70 436.47L165.37 439.71L166.72 441.65L168.75 442.30L170.10 442.30L172.12 441.65L173.47 439.71L174.15 436.47L174.15 434.52L173.47 431.28L172.12 429.34L170.10 428.69L168.75 428.69M179.86 431.28L181.21 430.64L183.23 428.69L183.23 442.30M192.96 431.28L194.31 430.64L196.34 428.69L196.34 442.30M203.68 445.35L213.80 445.35M221.92 428.69L220.57 428.69L219.22 429.34L218.55 431.28L218.55 442.30M216.52 433.23L221.25 433.23M227.04 431.28L228.39 430.64L230.41 428.69L230.41 442.30M246.88 433.23L246.20 435.17L244.85 436.47L242.83 437.12L242.15 437.12L240.13 436.47L238.78 435.17L238.10 433.23L238.10 432.58L238.78 430.64L240.13 429.34L242.15 428.69L242.83 428.69L244.85 429.34L246.20 430.64L246.88 433.23L246.88 436.47L246.20 439.71L244.85 441.65L242.83 442.30L241.48 442.30L239.45 441.65L238.78 440.36M250.86 445.35L260.98 445.35M265.73 428.69L265.73 439.71L266.41 441.65L267.76 442.30L269.11 442.30M263.71 433.23L268.43 433.23M272.85 433.23L272.85 442.30M272.85 435.82L274.88 433.88L276.23 433.23L278.25 433.23L279.60 433.88L280.28 435.82L280.28 442.30M286.67 431.28L288.02 430.64L290.05 428.69L290.05 442.30M299.78 431.28L301.13 430.64L303.15 428.69L303.15 442.30M321.93 436.47L334.08 436.47M352.91 428.69L347.51 442.30M352.91 428.69L358.31 442.30M349.53 437.76L356.28 437.76M361.42 428.69L361.42 442.30M366.53 428.69L366.53 442.30M366.53 428.69L372.60 428.69L374.63 429.34L375.30 429.99L375.98 431.28L375.98 432.58L375.30 433.88L374.63 434.52L372.60 435.17L366.53 435.17M371.25 435.17L375.98 442.30M389.09 430.64L387.74 429.34L385.71 428.69L383.01 428.69L380.99 429.34L379.64 430.64L379.64 431.93L380.31 433.23L380.99 433.88L382.34 434.52L386.39 435.82L387.74 436.47L388.41 437.12L389.09 438.41L389.09 440.36L387.74 441.65L385.71 442.30L383.01 442.30L380.99 441.65L379.64 440.36" stroke="#1a1a1a" stroke-width="0.93" stroke-linecap="round" stroke-linejoin="round"/>
<path d="M69.6 340.6C70.1 340.6 71.6 340.6 72.6 340.7C73.6 340.7 74.6 340.7 75.6 340.7C76.6 340.8 77.6 340.9 78.6 341.0C79.6 341.0 80.6 341.1 81.6 341.2C82.6 341.2 83.6 341.2 84.6 341.1C85.6 341.1 86.6 341.0 87.6 340.7C88.6 340.5 89.6 340.0 90.6 339.6C91.6 339.2 92.6 338.7 93.7 338.2C94.7 337.7 95.7 337.1 96.7 336.5C97.7 336.0 98.7 335.4 99.7 334.8C100.7 334.2 101.7 333.6 102.7 333.0C103.7 332.4 104.7 331.8 105.7 331.2C106.7 330.5 107.7 329.8 108.7 329.1C109.7 328.3 110.7 327.6 111.7 326.8C112.7 326.0 113.7 325.3 114.7 324.4C115.7 323.5 116.7 322.6 117.7 321.6C118.7 320.6 119.7 319.4 120.7 318.3C121.7 317.2 122.7 315.9 123.7 314.8C124.7 313.7 125.7 312.7 126.7 311.7C127.7 310.7 128.7 309.8 129.7 308.9C130.7 308.0 131.7 307.1 132.7 306.2C133.7 305.3 134.7 304.4 135.7 303.5C136.7 302.5 137.7 301.5 138.8 300.4C139.8 299.4 140.8 298.3 141.8 297.1C142.8 296.0 143.8 294.9 144.8 293.7C145.8 292.6 146.8 291.4 147.8 290.1C148.8 288.9 149.8 287.6 150.8 286.2C151.8 284.7 152.8 283.2 153.8 281.6C154.8 280.0 155.8 278.3 156.8 276.7C157.8 275.1 158.8 273.4 159.8 271.8C160.8 270.3 161.8 268.8 162.8 267.3C163.8 265.8 164.8 264.3 165.8 262.8C166.8 261.3 167.8 259.8 168.8 258.3C169.8 256.8 170.8 255.3 171.8 253.8C172.8 252.3 173.8 250.8 174.8 249.2C175.8 247.7 176.8 246.1 177.8 244.4C178.8 242.7 179.8 240.8 180.8 239.0C181.8 237.1 182.8 235.2 183.8 233.3C184.9 231.3 185.9 229.5 186.9 227.4C187.9 225.4 188.9 223.3 189.9 221.0C190.9 218.8 191.9 216.5 192.9 214.0C193.9 211.5 194.9 208.8 195.9 205.9C196.9 203.0 197.9 199.9 198.9 196.5C199.9 193.2 200.9 189.6 201.9 185.7C202.9 181.8 203.9 177.5 204.9 173.0C205.9 168.6 206.9 163.6 207.9 158.9C208.9 154.1 209.9 149.3 210.9 144.5C211.9 139.8 212.9 135.1 213.9 130.4C214.9 125.8 215.9 120.8 216.9 116.5C217.9 112.2 218.9 107.9 219.9 104.4C220.9 100.9 221.9 97.9 222.9 95.6C223.9 93.3 224.9 91.9 225.9 90.9C226.9 89.8 227.9 89.6 228.9 89.4C229.9 89.2 231.0 89.4 232.0 89.9C233.0 90.3 234.0 90.9 235.0 92.2C236.0 93.4 237.0 94.9 238.0 97.2C239.0 99.6 240.0 102.6 241.0 106.1C242.0 109.7 243.0 114.2 244.0 118.4C245.0 122.7 246.0 127.4 247.0 131.8C248.0 136.2 249.0 140.6 250.0 144.8C251.0 148.9 252.0 153.0 253.0 156.7C254.0 160.5 255.0 163.9 256.0 167.5C257.0 171.0 258.0 174.6 259.0 177.8C260.0 181.0 261.0 184.1 262.0 186.7C263.0 189.4 264.0 191.5 265.0 193.8C266.0 196.1 267.0 198.5 268.0 200.6C269.0 202.7 270.0 204.8 271.0 206.6C272.0 208.4 273.0 210.0 274.0 211.6C275.0 213.2 276.0 214.8 277.1 216.2C278.1 217.7 279.1 218.9 280.1 220.2C281.1 221.5 282.1 222.7 283.1 223.9C284.1 225.1 285.1 226.3 286.1 227.5C287.1 228.6 288.1 229.7 289.1 230.9C290.1 232.1 291.1 233.3 292.1 234.6C293.1 235.9 294.1 237.5 295.1 238.9C296.1 240.4 297.1 241.9 298.1 243.5C299.1 245.1 300.1 246.9 301.1 248.7C302.1 250.4 303.1 252.3 304.1 254.2C305.1 256.1 306.1 257.9 307.1 259.8C308.1 261.6 309.1 263.5 310.1 265.4C311.1 267.3 312.1 269.1 313.1 271.0C314.1 272.9 315.1 274.9 316.1 276.9C317.1 278.8 318.1 280.9 319.1 282.8C320.1 284.7 321.1 286.6 322.1 288.4C323.2 290.2 324.2 291.9 325.2 293.7C326.2 295.4 327.2 297.1 328.2 298.7C329.2 300.4 330.2 301.9 331.2 303.4C332.2 304.9 333.2 306.4 334.2 307.9C335.2 309.4 336.2 310.8 337.2 312.2C338.2 313.6 339.2 314.9 340.2 316.4C341.2 317.8 342.2 319.2 343.2 320.7C344.2 322.3 345.2 323.9 346.2 325.6C347.2 327.4 348.2 329.1 349.2 331.0C350.2 332.9 351.2 335.0 352.2 336.8C353.2 338.6 354.2 340.3 355.2 341.8C356.2 343.2 357.2 344.4 358.2 345.6C359.2 346.9 360.2 348.1 361.2 349.3C362.2 350.5 363.2 351.8 364.2 352.9C365.2 354.0 366.2 355.2 367.2 356.0C368.2 356.9 369.3 357.6 370.3 358.2C371.3 358.7 372.3 359.2 373.3 359.5C374.3 359.9 375.3 360.0 376.3 360.3C377.3 360.5 378.3 360.7 379.3 361.0C380.3 361.4 381.3 361.9 382.3 362.4C383.3 362.8 384.3 363.5 385.3 364.0C386.3 364.5 387.3 365.0 388.3 365.4C389.3 365.8 390.6 366.3 391.3 366.5C392.0 366.8 392.1 366.8 392.3 366.9" stroke="#000" stroke-width="1.5" stroke-linejoin="round"/>
<path d="M69.6 347.0C70.1 346.9 71.6 346.6 72.6 346.5C73.6 346.3 74.6 346.2 75.6 346.1C76.6 346.0 77.6 346.0 78.6 346.0C79.6 346.0 80.6 346.0 81.6 346.0C82.6 345.9 83.6 345.8 84.6 345.6C85.6 345.5 86.6 345.2 87.6 344.8C88.6 344.5 89.6 343.9 90.6 343.4C91.6 342.8 92.6 342.2 93.7 341.5C94.7 340.9 95.7 340.2 96.7 339.6C97.7 339.0 98.7 338.4 99.7 337.9C100.7 337.5 101.7 337.2 102.7 336.8C103.7 336.4 104.7 336.1 105.7 335.6C106.7 335.1 107.7 334.6 108.7 334.0C109.7 333.4 110.7 332.9 111.7 332.2C112.7 331.6 113.7 330.9 114.7 330.2C115.7 329.4 116.7 328.6 117.7 327.7C118.7 326.7 119.7 325.7 120.7 324.6C121.7 323.5 122.7 322.3 123.7 321.3C124.7 320.3 125.7 319.5 126.7 318.8C127.7 318.0 128.7 317.4 129.7 316.8C130.7 316.1 131.7 315.6 132.7 314.9C133.7 314.3 134.7 313.8 135.7 313.1C136.7 312.5 137.7 311.9 138.8 311.2C139.8 310.5 140.8 309.7 141.8 308.9C142.8 308.0 143.8 307.0 144.8 306.1C145.8 305.2 146.8 304.3 147.8 303.4C148.8 302.5 149.8 301.7 150.8 300.7C151.8 299.7 152.8 298.6 153.8 297.3C154.8 296.1 155.8 294.6 156.8 293.2C157.8 291.9 158.8 290.5 159.8 289.3C160.8 288.1 161.8 287.1 162.8 286.0C163.8 284.9 164.8 284.0 165.8 282.8C166.8 281.6 167.8 280.2 168.8 278.6C169.8 276.9 170.8 274.9 171.8 273.0C172.8 271.1 173.8 269.1 174.8 267.0C175.8 264.8 176.8 262.5 177.8 260.3C178.8 258.1 179.8 255.8 180.8 253.6C181.8 251.5 182.8 249.5 183.8 247.5C184.9 245.4 185.9 243.5 186.9 241.4C187.9 239.4 188.9 237.2 189.9 235.1C190.9 233.0 191.9 230.9 192.9 228.7C193.9 226.5 194.9 224.2 195.9 221.7C196.9 219.3 197.9 216.8 198.9 214.1C199.9 211.3 200.9 208.4 201.9 205.3C202.9 202.3 203.9 199.1 204.9 195.8C205.9 192.5 206.9 189.0 207.9 185.7C208.9 182.4 209.9 179.2 210.9 175.9C211.9 172.6 212.9 169.0 213.9 165.9C214.9 162.8 215.9 159.4 216.9 157.1C217.9 154.9 218.9 153.2 219.9 152.3C220.9 151.3 221.9 151.0 222.9 151.4C223.9 151.9 224.9 153.5 225.9 155.0C226.9 156.6 227.9 159.0 228.9 160.6C229.9 162.2 231.0 163.3 232.0 164.5C233.0 165.7 234.0 166.7 235.0 167.8C236.0 168.9 237.0 169.9 238.0 171.1C239.0 172.3 240.0 173.2 241.0 174.8C242.0 176.3 243.0 178.3 244.0 180.2C245.0 182.1 246.0 184.1 247.0 186.3C248.0 188.5 249.0 191.1 250.0 193.5C251.0 195.9 252.0 198.2 253.0 200.8C254.0 203.4 255.0 206.7 256.0 209.3C257.0 211.8 258.0 213.8 259.0 216.3C260.0 218.8 261.0 221.5 262.0 224.0C263.0 226.6 264.0 229.5 265.0 231.8C266.0 234.0 267.0 235.8 268.0 237.7C269.0 239.6 270.0 241.2 271.0 243.2C272.0 245.2 273.0 247.8 274.0 249.8C275.0 251.8 276.0 253.3 277.1 255.1C278.1 256.9 279.1 258.9 280.1 260.5C281.1 262.1 282.1 263.3 283.1 264.7C284.1 266.0 285.1 267.2 286.1 268.4C287.1 269.7 288.1 270.8 289.1 271.9C290.1 273.0 291.1 274.0 292.1 275.0C293.1 276.0 294.1 276.9 295.1 278.0C296.1 279.1 297.1 280.3 298.1 281.6C299.1 282.8 300.1 284.3 301.1 285.6C302.1 287.0 303.1 288.4 304.1 289.8C305.1 291.3 306.1 292.8 307.1 294.3C308.1 295.8 309.1 297.3 310.1 298.7C311.1 300.2 312.1 301.5 313.1 302.8C314.1 304.1 315.1 305.3 316.1 306.6C317.1 307.8 318.1 309.1 319.1 310.3C320.1 311.6 321.1 312.9 322.1 314.1C323.2 315.4 324.2 316.7 325.2 317.8C326.2 319.0 327.2 320.1 328.2 321.1C329.2 322.2 330.2 323.1 331.2 324.1C332.2 325.1 333.2 326.1 334.2 327.1C335.2 328.0 336.2 329.0 337.2 329.9C338.2 330.8 339.2 331.7 340.2 332.6C341.2 333.5 342.2 334.4 343.2 335.4C344.2 336.4 345.2 337.5 346.2 338.7C347.2 339.9 348.2 341.3 349.2 342.7C350.2 344.1 351.2 345.6 352.2 347.0C353.2 348.5 354.2 350.1 355.2 351.4C356.2 352.7 357.2 353.8 358.2 354.8C359.2 355.9 360.2 356.7 361.2 357.5C362.2 358.4 363.2 359.1 364.2 359.8C365.2 360.6 366.2 361.3 367.2 361.8C368.2 362.4 369.3 362.8 370.3 363.1C371.3 363.5 372.3 363.8 373.3 364.1C374.3 364.3 375.3 364.4 376.3 364.6C377.3 364.7 378.3 364.9 379.3 365.1C380.3 365.3 381.3 365.5 382.3 365.7C383.3 365.9 384.3 366.1 385.3 366.3C386.3 366.4 387.3 366.6 388.3 366.8C389.3 366.9 390.6 367.1 391.3 367.2C392.0 367.3 392.1 367.4 392.3 367.4" stroke="#f00" stroke-width="1.5" stroke-dasharray="7.8 2.2"/>
<path d="M69.6 767.3C70.0 767.7 72.1 770.2 72.9 770.8C73.7 771.4 75.7 771.6 76.6 771.9C77.5 772.2 79.4 773.4 80.3 773.6C81.2 773.8 82.9 773.5 83.7 773.8C84.5 774.1 86.0 775.3 86.8 776.0C87.6 776.7 89.6 778.9 90.5 779.7C91.4 780.5 93.4 782.4 94.2 783.0C95.0 783.6 96.7 784.4 97.5 784.3C98.3 784.2 99.9 783.3 100.7 782.5C101.5 781.7 103.5 778.9 104.4 777.8C105.3 776.7 107.2 774.0 108.1 773.2C109.0 772.4 110.9 771.4 111.8 771.0C112.7 770.6 114.7 769.9 115.5 769.5C116.3 769.1 117.4 767.6 118.2 767.3C119.0 767.0 121.0 766.9 121.9 766.9C122.8 766.9 124.7 768.2 125.6 767.7C126.5 767.2 128.5 764.2 129.3 763.0C130.1 761.8 131.3 758.7 132.1 757.5C132.9 756.3 135.0 754.2 135.8 752.9C136.6 751.6 138.2 747.6 139.1 746.4C140.0 745.2 142.3 743.7 143.2 742.7C144.1 741.7 146.1 739.3 146.9 738.4C147.7 737.5 149.0 736.7 149.7 735.3C150.4 733.9 151.7 727.8 152.5 726.4C153.3 725.0 155.3 724.2 156.2 723.3C157.1 722.4 159.0 720.1 159.9 718.7C160.8 717.3 162.8 712.6 163.6 711.3C164.4 710.0 166.1 707.8 166.9 707.6C167.7 707.4 169.2 708.9 170.0 709.8C170.8 710.7 172.8 713.9 173.7 715.0C174.6 716.1 176.5 717.5 177.4 718.7C178.3 719.9 180.5 724.0 181.3 725.4C182.1 726.8 183.3 729.8 184.0 730.6C184.7 731.4 186.6 731.9 187.4 732.1C188.2 732.3 189.7 732.1 190.5 732.4C191.3 732.7 193.3 735.6 194.2 735.0C195.1 734.4 197.0 729.7 197.9 727.2C198.8 724.7 200.7 717.6 201.6 714.3C202.5 711.0 204.4 703.5 205.3 699.5C206.2 695.5 208.1 685.9 209.0 681.0C209.9 676.1 211.9 663.9 212.7 658.8C213.5 653.7 214.9 643.2 215.5 638.5C216.1 633.8 216.8 624.4 217.3 620.0C217.8 615.6 218.8 607.5 219.3 601.6C219.8 595.7 221.0 578.9 221.6 570.8C222.2 562.7 223.8 542.3 224.4 534.5C225.1 526.7 226.4 511.8 227.0 505.8C227.6 499.8 228.8 487.9 229.3 484.3C229.8 480.7 230.6 477.7 231.0 475.6C231.4 473.5 232.4 468.1 232.7 467.0C233.0 465.9 233.1 466.6 233.4 466.5C233.7 466.4 235.3 466.4 235.6 466.5C235.9 466.6 236.0 465.9 236.3 467.0C236.6 468.1 237.7 473.5 238.2 475.6C238.7 477.7 239.6 480.9 240.1 484.3C240.6 487.7 241.8 499.1 242.4 504.3C243.0 509.5 244.1 521.1 244.7 527.4C245.3 533.7 246.4 550.7 247.0 557.0C247.6 563.3 248.7 575.3 249.3 580.1C249.9 584.9 251.0 593.3 251.6 597.0C252.2 600.7 253.3 607.7 253.9 610.9C254.5 614.1 256.3 621.5 257.0 624.0C257.7 626.5 259.4 630.2 260.1 631.7C260.8 633.2 262.4 635.4 263.2 636.3C264.0 637.2 265.7 639.1 266.5 639.6C267.3 640.1 268.8 640.7 269.5 640.7C270.2 640.7 271.5 640.2 272.4 639.4C273.3 638.6 275.9 635.5 277.0 634.0C278.1 632.5 280.8 628.3 281.7 627.1C282.6 625.9 284.0 624.7 284.7 624.3C285.4 623.9 286.9 623.1 287.8 623.4C288.7 623.7 290.9 625.3 292.0 626.6C293.1 627.9 295.7 632.6 296.6 634.0C297.5 635.4 298.7 637.2 299.4 638.2C300.1 639.2 301.2 640.9 302.2 642.4C303.2 643.9 306.5 648.7 307.7 650.7C308.9 652.7 311.3 656.7 312.4 659.0C313.5 661.3 315.8 667.3 317.0 670.1C318.2 672.9 321.2 679.1 322.5 682.1C323.8 685.1 326.9 692.2 328.1 695.1C329.3 698.0 331.7 704.0 332.7 706.2C333.7 708.4 335.4 711.8 336.4 713.6C337.4 715.4 339.7 719.0 341.0 721.0C342.3 723.0 346.0 727.3 347.5 730.0C349.0 732.7 351.9 740.3 353.1 743.1C354.3 745.9 356.7 750.9 357.8 753.2C358.9 755.5 361.2 760.3 362.4 762.4C363.6 764.5 366.6 769.5 367.8 770.9C369.0 772.3 371.2 773.6 372.4 774.3C373.6 775.0 376.5 775.8 377.8 776.6C379.1 777.4 382.0 779.8 383.2 780.9C384.4 782.0 386.7 785.0 387.8 786.0C388.9 787.0 391.8 788.6 392.4 788.9" stroke="#000" stroke-width="1.4" stroke-linejoin="round"/>
<rect x="415.5" y="309.3" width="227.2" height="55" stroke="#555" stroke-width="1"/>
<path d="M417.8 324.4H454.4" stroke="#f00" stroke-width="1.4" stroke-dasharray="7.8 2"/>
<path d="M417.8 349H454.4" stroke="#000" stroke-width="1.5"/>
<path d="M460.02 319.00L455.80 329.60M460.02 319.00L464.24 329.60M457.38 326.06L462.66 326.06M466.67 319.00L466.67 329.60M470.66 319.00L470.66 329.60M470.66 319.00L475.41 319.00L476.99 319.50L477.52 320.00L478.05 321.02L478.05 322.03L477.52 323.04L476.99 323.54L475.41 324.05L470.66 324.05M474.35 324.05L478.05 329.60M488.29 320.51L487.23 319.50L485.65 319.00L483.54 319.00L481.96 319.50L480.90 320.51L480.90 321.52L481.43 322.53L481.96 323.04L483.01 323.54L486.18 324.55L487.23 325.06L487.76 325.56L488.29 326.57L488.29 328.09L487.23 329.10L485.65 329.60L483.54 329.60L481.96 329.10L480.90 328.09" stroke="#1a1a1a" stroke-width="0.93" stroke-linecap="round" stroke-linejoin="round"/>
<path d="M455.70 343.00L455.70 353.50M455.70 343.00L463.27 353.50M463.27 343.00L463.27 353.50M468.37 345.00L469.45 344.50L471.08 343.00L471.08 353.50M479.93 343.00L478.31 343.50L477.77 344.50L477.77 345.50L478.31 346.50L479.39 347.00L481.56 347.50L483.18 348.00L484.26 349.00L484.80 350.00L484.80 351.50L484.26 352.50L483.72 353.00L482.10 353.50L479.93 353.50L478.31 353.00L477.77 352.50L477.23 351.50L477.23 350.00L477.77 349.00L478.85 348.00L480.47 347.50L482.64 347.00L483.72 346.50L484.26 345.50L484.26 344.50L483.72 343.50L482.10 343.00L479.93 343.00M494.22 343.00L488.81 343.00L488.27 347.50L488.81 347.00L490.44 346.50L492.06 346.50L493.68 347.00L494.76 348.00L495.30 349.50L495.30 350.50L494.76 352.00L493.68 353.00L492.06 353.50L490.44 353.50L488.81 353.00L488.27 352.50L487.73 351.50M501.48 343.00L499.86 343.50L498.77 345.00L498.23 347.50L498.23 349.00L498.77 351.50L499.86 353.00L501.48 353.50L502.56 353.50L504.18 353.00L505.26 351.50L505.81 349.00L505.81 347.50L505.26 345.00L504.18 343.50L502.56 343.00L501.48 343.00M508.46 355.85L516.58 355.85M520.32 343.00L526.27 343.00L523.02 347.00L524.65 347.00L525.73 347.50L526.27 348.00L526.81 349.50L526.81 350.50L526.27 352.00L525.19 353.00L523.56 353.50L521.94 353.50L520.32 353.00L519.78 352.50L519.24 351.50M532.98 343.00L531.36 343.50L530.28 345.00L529.74 347.50L529.74 349.00L530.28 351.50L531.36 353.00L532.98 353.50L534.07 353.50L535.69 353.00L536.77 351.50L537.31 349.00L537.31 347.50L536.77 345.00L535.69 343.50L534.07 343.00L532.98 343.00M541.89 345.00L542.97 344.50L544.59 343.00L544.59 353.50M552.39 345.00L553.47 344.50L555.09 343.00L555.09 353.50M560.97 355.85L569.09 355.85M575.60 343.00L574.51 343.00L573.43 343.50L572.89 345.00L572.89 353.50M571.27 346.50L575.06 346.50M579.69 345.00L580.78 344.50L582.40 343.00L582.40 353.50M595.59 346.50L595.05 348.00L593.97 349.00L592.34 349.50L591.80 349.50L590.18 349.00L589.10 348.00L588.56 346.50L588.56 346.00L589.10 344.50L590.18 343.50L591.80 343.00L592.34 343.00L593.97 343.50L595.05 344.50L595.59 346.50L595.59 349.00L595.05 351.50L593.97 353.00L592.34 353.50L591.26 353.50L589.64 353.00L589.10 352.00M598.78 355.85L606.89 355.85M610.70 343.00L610.70 351.50L611.24 353.00L612.32 353.50L613.40 353.50M609.08 346.50L612.86 346.50M616.40 346.50L616.40 353.50M616.40 348.50L618.03 347.00L619.11 346.50L620.73 346.50L621.81 347.00L622.35 348.50L622.35 353.50M627.48 345.00L628.56 344.50L630.18 343.00L630.18 353.50M637.98 345.00L639.06 344.50L640.68 343.00L640.68 353.50" stroke="#1a1a1a" stroke-width="0.93" stroke-linecap="round" stroke-linejoin="round"/>
</svg>
</body></html>
